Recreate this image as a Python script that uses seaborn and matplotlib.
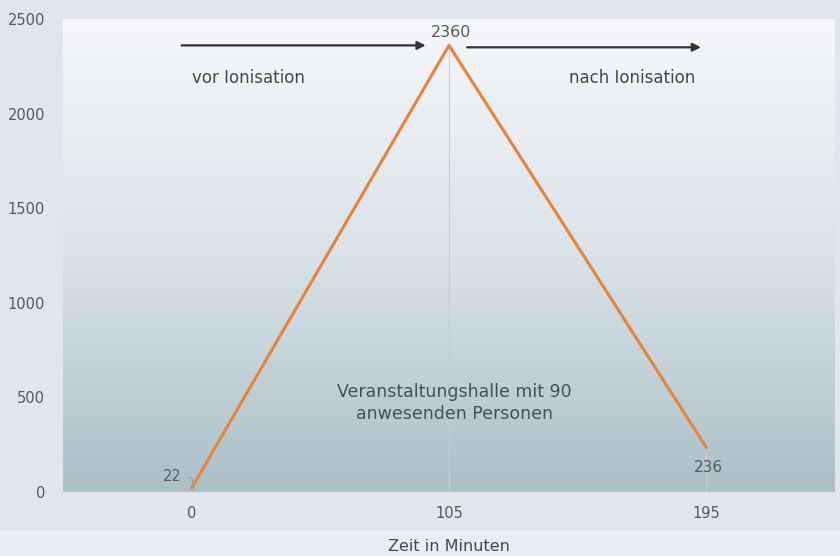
import numpy as np
import pandas as pd
import matplotlib.pyplot as plt
import matplotlib.colors as mcolors
import seaborn as sns

zeit = ['0', '105', '195']
werte = [22, 2360, 236]
y_ticks = [0, 500, 1000, 1500, 2000, 2500]

df = pd.DataFrame({'zeit': zeit, 'wert': werte})

sns.set_style('white')
plt.rcParams['font.family'] = ['DejaVu Sans']

fig = plt.figure(figsize=(8.4, 5.56), dpi=100)
fig.patch.set_facecolor('#e2e5ec')
# lighter strip at the bottom of the picture
fig.patches.append(plt.Rectangle((0, 0), 1, 0.045, transform=fig.transFigure,
                                 facecolor='#e9ecf4', edgecolor='none', zorder=-5))
ax = fig.add_axes([0.075, 0.115, 0.919, 0.851])

# background gradient inside the plot area
cmap = mcolors.LinearSegmentedColormap.from_list('bg', ['#abbfc7', '#d9e3e8', '#f6f7fa'])
grad = np.linspace(0, 1, 256).reshape(-1, 1)
ax.imshow(grad, cmap=cmap, origin='lower', aspect='auto',
          extent=(-0.5, 2.5, 0, 2500), zorder=0)

sns.lineplot(data=df, x='zeit', y='wert', color='#e8833a', linewidth=2.2, ax=ax, zorder=3)

# drop lines
ax.vlines(1, 0, werte[1], color='#c8ccd2', linewidth=0.8, zorder=2)
ax.vlines(2, 0, werte[2], color='#c8d0d6', linewidth=0.6, zorder=2)

ax.set_xlim(-0.5, 2.5)
ax.set_ylim(0, 2500)
ax.set_yticks(y_ticks)
ax.tick_params(axis='both', length=0, labelsize=10.5, labelcolor='#555a60')
ax.tick_params(axis='y', pad=13)
ax.tick_params(axis='x', pad=10)
for s in ax.spines.values():
    s.set_visible(False)
ax.set_xlabel('Zeit in Minuten', fontsize=11.5, color='#44484e', va='center')
ax.xaxis.set_label_coords(0.5, -0.116)
ax.set_ylabel('')

# value labels
ax.annotate(str(werte[0]), xy=(0, werte[0]), xytext=(-0.04, 80), ha='right', va='center',
            fontsize=10.5, color='#555a60',
            arrowprops=dict(arrowstyle='-', color='#9aa0a6', lw=0.6,
                            connectionstyle='angle,angleA=0,angleB=90'))
ax.text(1.01, 2390, str(werte[1]), ha='center', va='bottom', fontsize=11.5, color='#555a60')
ax.text(2.01, 170, str(werte[2]), ha='center', va='top', fontsize=11, color='#555a60')

# arrows and phase labels
ax.annotate('', xy=(0.92, 2360), xytext=(-0.05, 2360),
            arrowprops=dict(arrowstyle='-|>', color='#333333', lw=1.6, mutation_scale=12))
ax.annotate('', xy=(1.99, 2350), xytext=(1.06, 2350),
            arrowprops=dict(arrowstyle='-|>', color='#333333', lw=1.6, mutation_scale=12))
ax.text(0.22, 2190, 'vor Ionisation', ha='center', va='center', fontsize=12, color='#44484e')
ax.text(1.71, 2190, 'nach Ionisation', ha='center', va='center', fontsize=12, color='#44484e')

ax.text(1.02, 470, 'Veranstaltungshalle mit 90\nanwesenden Personen', ha='center', va='center',
        fontsize=12.5, color='#4a4f55', linespacing=1.3)

fig.savefig('out.png', dpi=100, facecolor=fig.get_facecolor())
